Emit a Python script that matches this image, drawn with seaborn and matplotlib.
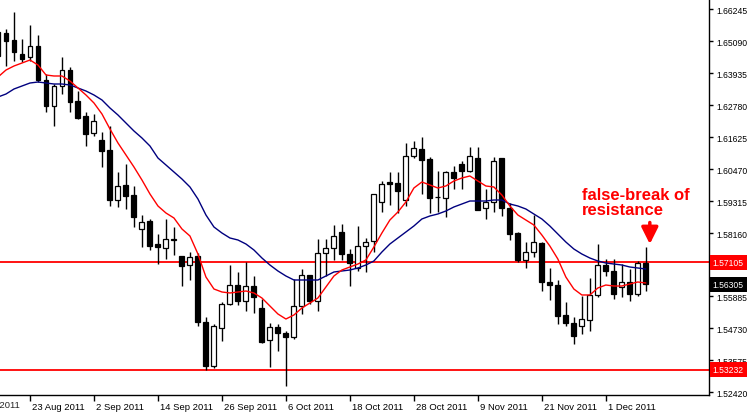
import seaborn as sns
import numpy as np
import matplotlib.pyplot as plt
import matplotlib.transforms as mtransforms

# daily GBP/USD candles, 17 Aug 2011 - 8 Dec 2011
open_ = [1.65415, 1.65379, 1.65126, 1.64621, 1.64513, 1.64910, 1.63683, 1.62744, 1.63466, 1.64043,
         1.62925, 1.62383, 1.61770, 1.61517, 1.61156, 1.59351, 1.59893, 1.59532, 1.58305, 1.58593,
         1.57763, 1.57619, 1.57908, 1.57330, 1.57005, 1.57330, 1.54948, 1.53360, 1.54731, 1.55598,
         1.56283, 1.55706, 1.56247, 1.55453, 1.54298, 1.54768, 1.54551, 1.54407, 1.55525, 1.56644,
         1.55706, 1.57438, 1.57619, 1.58196, 1.57402, 1.56897, 1.57691, 1.57872, 1.59279, 1.60001,
         1.59965, 1.59351, 1.60939, 1.61192, 1.60831, 1.59460, 1.59424, 1.60362, 1.60651, 1.60398,
         1.60867, 1.59063, 1.59279, 1.60867, 1.59063, 1.58160, 1.57186, 1.57474, 1.57799, 1.56392,
         1.56283, 1.55201, 1.54912, 1.54804, 1.55020, 1.55923, 1.57005, 1.56789, 1.56211, 1.56392,
         1.55959, 1.57077]
high = [1.65523, 1.65523, 1.66137, 1.65162, 1.65668, 1.65307, 1.63899, 1.63538, 1.64513, 1.64152,
        1.63285, 1.62528, 1.62455, 1.61806, 1.62022, 1.60362, 1.60651, 1.59857, 1.58810, 1.58666,
        1.58124, 1.58666, 1.58377, 1.57345, 1.57474, 1.57438, 1.55128, 1.54876, 1.55670, 1.57005,
        1.56753, 1.57114, 1.56608, 1.55778, 1.54912, 1.54876, 1.54623, 1.56500, 1.56861, 1.56650,
        1.57944, 1.57944, 1.58449, 1.58485, 1.57583, 1.58413, 1.57980, 1.59575, 1.60037, 1.60362,
        1.60362, 1.61409, 1.61481, 1.61625, 1.60903, 1.60398, 1.60398, 1.60578, 1.60759, 1.61264,
        1.61264, 1.59748, 1.60903, 1.60875, 1.59243, 1.58196, 1.57835, 1.58810, 1.57835, 1.56897,
        1.56464, 1.55670, 1.55128, 1.55886, 1.56536, 1.57763, 1.57222, 1.57222, 1.57041, 1.56861,
        1.57150, 1.57655]
low = [1.64440, 1.64188, 1.64368, 1.64332, 1.64368, 1.63610, 1.62528, 1.62022, 1.63177, 1.62528,
       1.62275, 1.61300, 1.61661, 1.60542, 1.59135, 1.59099, 1.59027, 1.58377, 1.57655, 1.57547,
       1.57041, 1.57222, 1.57366, 1.56247, 1.56464, 1.54804, 1.53216, 1.53288, 1.54262, 1.55562,
       1.55562, 1.55345, 1.55273, 1.54190, 1.53324, 1.53901, 1.52638, 1.54334, 1.55237, 1.55598,
       1.55345, 1.56608, 1.57186, 1.57186, 1.56247, 1.56789, 1.56753, 1.57474, 1.58918, 1.59171,
       1.58882, 1.59135, 1.60867, 1.59568, 1.58882, 1.58918, 1.58738, 1.59748, 1.59748, 1.60362,
       1.58990, 1.58666, 1.58918, 1.58774, 1.57908, 1.57114, 1.56897, 1.57294, 1.56067, 1.55742,
       1.54876, 1.54804, 1.54154, 1.54515, 1.54623, 1.55850, 1.56608, 1.55778, 1.55850, 1.55706,
       1.55886, 1.56067]
close = [1.64549, 1.65090, 1.64693, 1.64440, 1.64910, 1.63683, 1.62744, 1.63466, 1.64043, 1.62888,
         1.62311, 1.61733, 1.62203, 1.61120, 1.59351, 1.59857, 1.59496, 1.58738, 1.58557, 1.57691,
         1.57655, 1.57944, 1.57944, 1.56969, 1.57294, 1.54948, 1.53360, 1.54804, 1.55598, 1.56283,
         1.55706, 1.56247, 1.55850, 1.54226, 1.54768, 1.54551, 1.54407, 1.55525, 1.56644, 1.55706,
         1.57438, 1.57619, 1.58052, 1.57402, 1.57077, 1.57691, 1.57835, 1.59568, 1.59929, 1.59929,
         1.59676, 1.60939, 1.61228, 1.60795, 1.59424, 1.59445, 1.60362, 1.60145, 1.60398, 1.60939,
         1.58990, 1.59279, 1.60759, 1.59063, 1.58124, 1.57186, 1.57474, 1.57835, 1.56392, 1.56283,
         1.55165, 1.54912, 1.54443, 1.55056, 1.55923, 1.57005, 1.56789, 1.55959, 1.56392, 1.55959,
         1.57077, 1.56305]

# moving averages as drawn on the chart
ma_fast = [1.63791, 1.64043, 1.64188, 1.64296, 1.64404, 1.64224, 1.63863, 1.63827, 1.63827, 1.63646,
           1.63394, 1.63141, 1.62852, 1.62455, 1.61914, 1.61409, 1.60976, 1.60542, 1.60073, 1.59568,
           1.59135, 1.58882, 1.58702, 1.58305, 1.58052, 1.57402, 1.56572, 1.56139, 1.56031, 1.55995,
           1.56031, 1.56067, 1.55995, 1.55814, 1.55525, 1.55237, 1.55056, 1.55201, 1.55453, 1.55634,
           1.55814, 1.56211, 1.56608, 1.56825, 1.56933, 1.57041, 1.57186, 1.57655, 1.58160, 1.58629,
           1.58918, 1.59279, 1.59784, 1.60001, 1.59893, 1.59784, 1.59857, 1.60037, 1.60145, 1.60218,
           1.60037, 1.59857, 1.59821, 1.59532, 1.59135, 1.58810, 1.58629, 1.58449, 1.58088, 1.57691,
           1.57222, 1.56572, 1.56139, 1.55923, 1.55923, 1.56175, 1.56283, 1.56247, 1.56247, 1.56320,
           1.56392, 1.56356]
ma_slow = [1.63069, 1.63177, 1.63358, 1.63466, 1.63574, 1.63610, 1.63574, 1.63538, 1.63538, 1.63502,
           1.63394, 1.63285, 1.63141, 1.62961, 1.62672, 1.62419, 1.62130, 1.61842, 1.61589, 1.61300,
           1.60867, 1.60615, 1.60362, 1.60109, 1.59821, 1.59387, 1.58810, 1.58377, 1.58160, 1.57980,
           1.57908, 1.57763, 1.57547, 1.57258, 1.57005, 1.56789, 1.56608, 1.56464, 1.56464, 1.56464,
           1.56464, 1.56608, 1.56753, 1.56789, 1.56825, 1.56897, 1.57005, 1.57150, 1.57474, 1.57763,
           1.57980, 1.58196, 1.58413, 1.58666, 1.58774, 1.58846, 1.58954, 1.59099, 1.59207, 1.59315,
           1.59315, 1.59315, 1.59351, 1.59351, 1.59207, 1.59135, 1.59027, 1.58846, 1.58666, 1.58413,
           1.58124, 1.57835, 1.57583, 1.57402, 1.57258, 1.57150, 1.57077, 1.57041, 1.57005, 1.56933,
           1.56897, 1.56861]

date_pos = [4, 12, 20, 28, 36, 44, 52, 60, 68, 76]
date_labels = ['23 Aug 2011', '2 Sep 2011', '14 Sep 2011', '26 Sep 2011', '6 Oct 2011',
               '18 Oct 2011', '28 Oct 2011', '9 Nov 2011', '21 Nov 2011', '1 Dec 2011']
price_ticks = [1.66245, 1.65090, 1.63935, 1.62780, 1.61625, 1.60470, 1.59315, 1.58160,
               1.55885, 1.54730, 1.53575, 1.52420]
resistance = 1.57105
support = 1.53232
last_price = 1.56305

sns.set_style('white')
plt.rcParams['font.family'] = ['Liberation Sans', 'DejaVu Sans']

fig = plt.figure(figsize=(7.5, 4.14), dpi=100)
ax = fig.add_axes([0, 18 / 414, 709 / 750, 396 / 414])

idx = np.arange(len(close))
o = np.array(open_)
c = np.array(close)
up = c >= o

# wicks
ax.vlines(idx, low, high, color='black', linewidth=1, zorder=2)
# bodies
ax.bar(idx, np.abs(c - o), bottom=np.minimum(o, c), width=0.62,
       color=np.where(up, 'white', 'black'), edgecolor='black', linewidth=0.9, zorder=3)

# moving averages
sns.lineplot(x=idx, y=ma_slow, color='#00007f', linewidth=1, ax=ax, zorder=4)
sns.lineplot(x=idx, y=ma_fast, color='red', linewidth=1, ax=ax, zorder=4)

ax.axhline(resistance, color='red', linewidth=1.3, zorder=1)
ax.axhline(support, color='red', linewidth=1.3, zorder=1)

ax.set_xlim(0.25, 88.9)
ax.set_ylim(1.52313, 1.66606)

for s in ['top', 'left']:
    ax.spines[s].set_visible(False)
for s in ['right', 'bottom']:
    ax.spines[s].set_color('black')
    ax.spines[s].set_linewidth(1)

ax.yaxis.tick_right()
ax.set_yticks(price_ticks)
ax.set_yticklabels([f'{v:.5f}' for v in price_ticks])
ax.tick_params(axis='y', right=True, length=3, width=1, pad=2.5, labelsize=6.2, colors='black')

ax.set_xticks(date_pos)
ax.set_xticklabels(date_labels, ha='left')
ax.tick_params(axis='x', bottom=True, length=4, width=1, pad=1, labelsize=6.8, colors='black')
offset = mtransforms.ScaledTranslation(2 / 100, 0, fig.dpi_scale_trans)
for lab in ax.get_xticklabels():
    lab.set_transform(lab.get_transform() + offset)

# partly cut first date label
tr_x = mtransforms.blended_transform_factory(ax.transData, ax.transAxes)
ax.text(-4 + 0.25, -0.012, '11 Aug 2011', transform=tr_x, fontsize=6.8,
        ha='left', va='top', clip_on=False)

# price boxes on the right scale
tr_y = mtransforms.blended_transform_factory(ax.transAxes, ax.transData)
for val, col in [(resistance, 'red'), (support, 'red'), (last_price, 'black')]:
    ax.text(1.005, val, f'{val:.5f}', transform=tr_y, fontsize=6.2, color='white',
            ha='left', va='center', clip_on=False,
            bbox=dict(boxstyle='square,pad=0.35', fc=col, ec='none'))

# annotation
ax.text(73, 1.59830, 'false-break of\nresistance', color='red', fontsize=12,
        fontweight='bold', ha='left', va='top', linespacing=1.05, zorder=6)
ax.annotate('', xy=(81.5, 1.57660), xytext=(81.5, 1.58640),
            arrowprops=dict(arrowstyle='-|>,head_length=1.0,head_width=0.5',
                            color='red', lw=2.5), zorder=6)

fig.savefig('out.png', dpi=100)
